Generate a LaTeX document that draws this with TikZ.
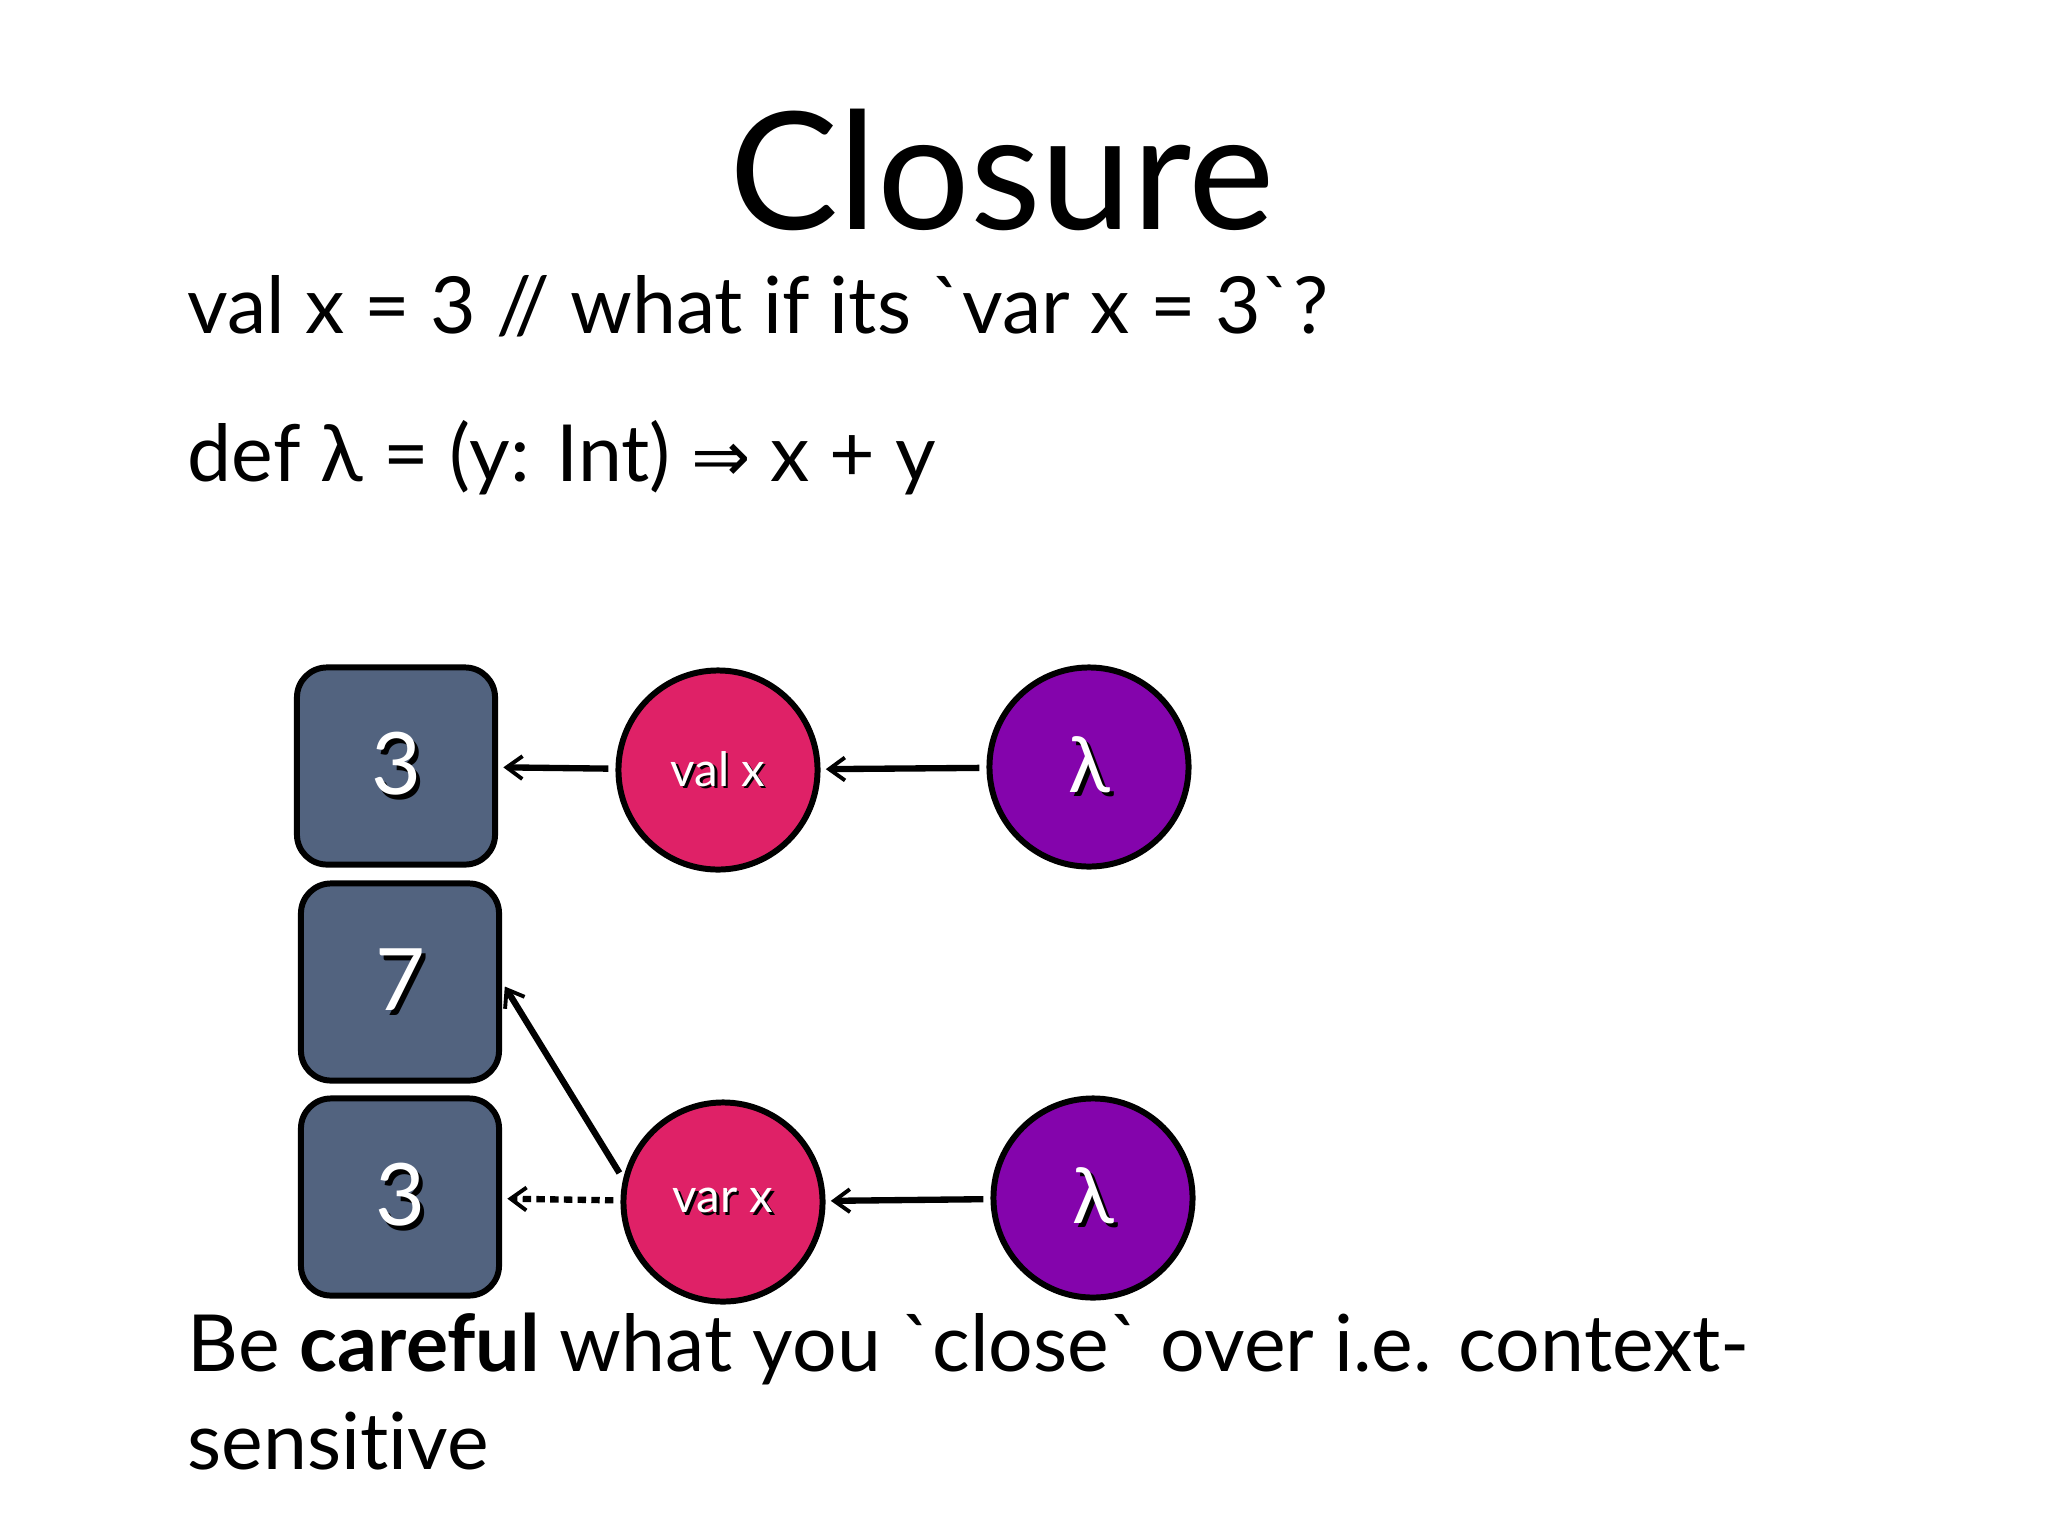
\documentclass[tikz,border=0pt]{standalone}
\usepackage{fontspec}
\newfontfamily\lato[Ligatures=NoCommon]{Lato}
\newfontfamily\djv{DejaVu Sans}
\usetikzlibrary{arrows.meta}
\definecolor{slate}{HTML}{52637F}
\definecolor{rose}{HTML}{DF2167}
\definecolor{grape}{HTML}{8404AC}
\newcommand\shd[1]{\makebox[0pt][l]{\hspace{0.05em}\raisebox{-0.05em}{\color{black}#1}}{\color{white}#1}}
\begin{document}
\begin{tikzpicture}[x=0.01cm,y=-0.01cm, font=\lato,
  valbox/.style={draw=black, line width=1.7pt, fill=slate, rounded corners=0.3cm,
    minimum width=1.98cm, minimum height=1.97cm, inner sep=0pt,
    font=\lato\fontsize{24.5pt}{24pt}\selectfont},
  vcirc/.style={circle, draw=black, line width=1.7pt, fill=rose, minimum size=1.99cm, inner sep=0pt,
    font=\lato\fontsize{13.5pt}{14pt}\selectfont},
  lcirc/.style={circle, draw=black, line width=1.7pt, fill=grape, minimum size=1.99cm, inner sep=0pt,
    font=\lato\fontsize{22pt}{22pt}\selectfont},
  arr/.style={line width=1.8pt, -{Straight Barb[length=4.5pt,width=6.5pt,line width=1.1pt]}, shorten >=1.5pt, shorten <=2pt},
  dotarr/.style={dash pattern=on 2.4pt off 1.5pt},
  body/.style={anchor=base west, inner sep=0pt, font=\lato\fontsize{22.4pt}{28pt}\selectfont}
]
\path[use as bounding box, fill=white] (0,0) rectangle (2048,1536);

\node[anchor=base, inner sep=0pt, font=\lato\fontsize{46.5pt}{50pt}\selectfont] (title) at (1002,229) {Closure};
\node[body] (line1) at (187,333) {val x = 3 // what if its `var x = 3`?};
\node[body] (line2) at (187,481) {def λ = (y: Int) {\djv\scalebox{0.9}{⇒}} x + y};

\node[valbox] (b1) at (396,766) {\shd{3}};
\node[valbox] (b2) at (400,982) {\shd{7}};
\node[valbox] (b3) at (400,1197) {\shd{3}};
\node[vcirc] (vx) at (718,770) {\shd{val x}};
\node[lcirc] (l1) at (1089,767) {\shd{λ}};
\node[vcirc] (rx) at (723,1202) {\shd{var x}};
\node[lcirc] (l2) at (1093,1198) {\shd{λ}};

\draw[arr] (vx) -- (b1);
\draw[arr] (l1) -- (vx);
\draw[arr, dotarr] (rx) -- (b3);
\draw[arr] (l2) -- (rx);
\draw[arr] (rx.167) -- (b2.east);

\node[body] (line3) at (187,1371) {Be \textbf{careful} what you `close` over i.e. context-};
\node[body] (line4) at (187,1469) {sensitive};
\end{tikzpicture}
\end{document}
